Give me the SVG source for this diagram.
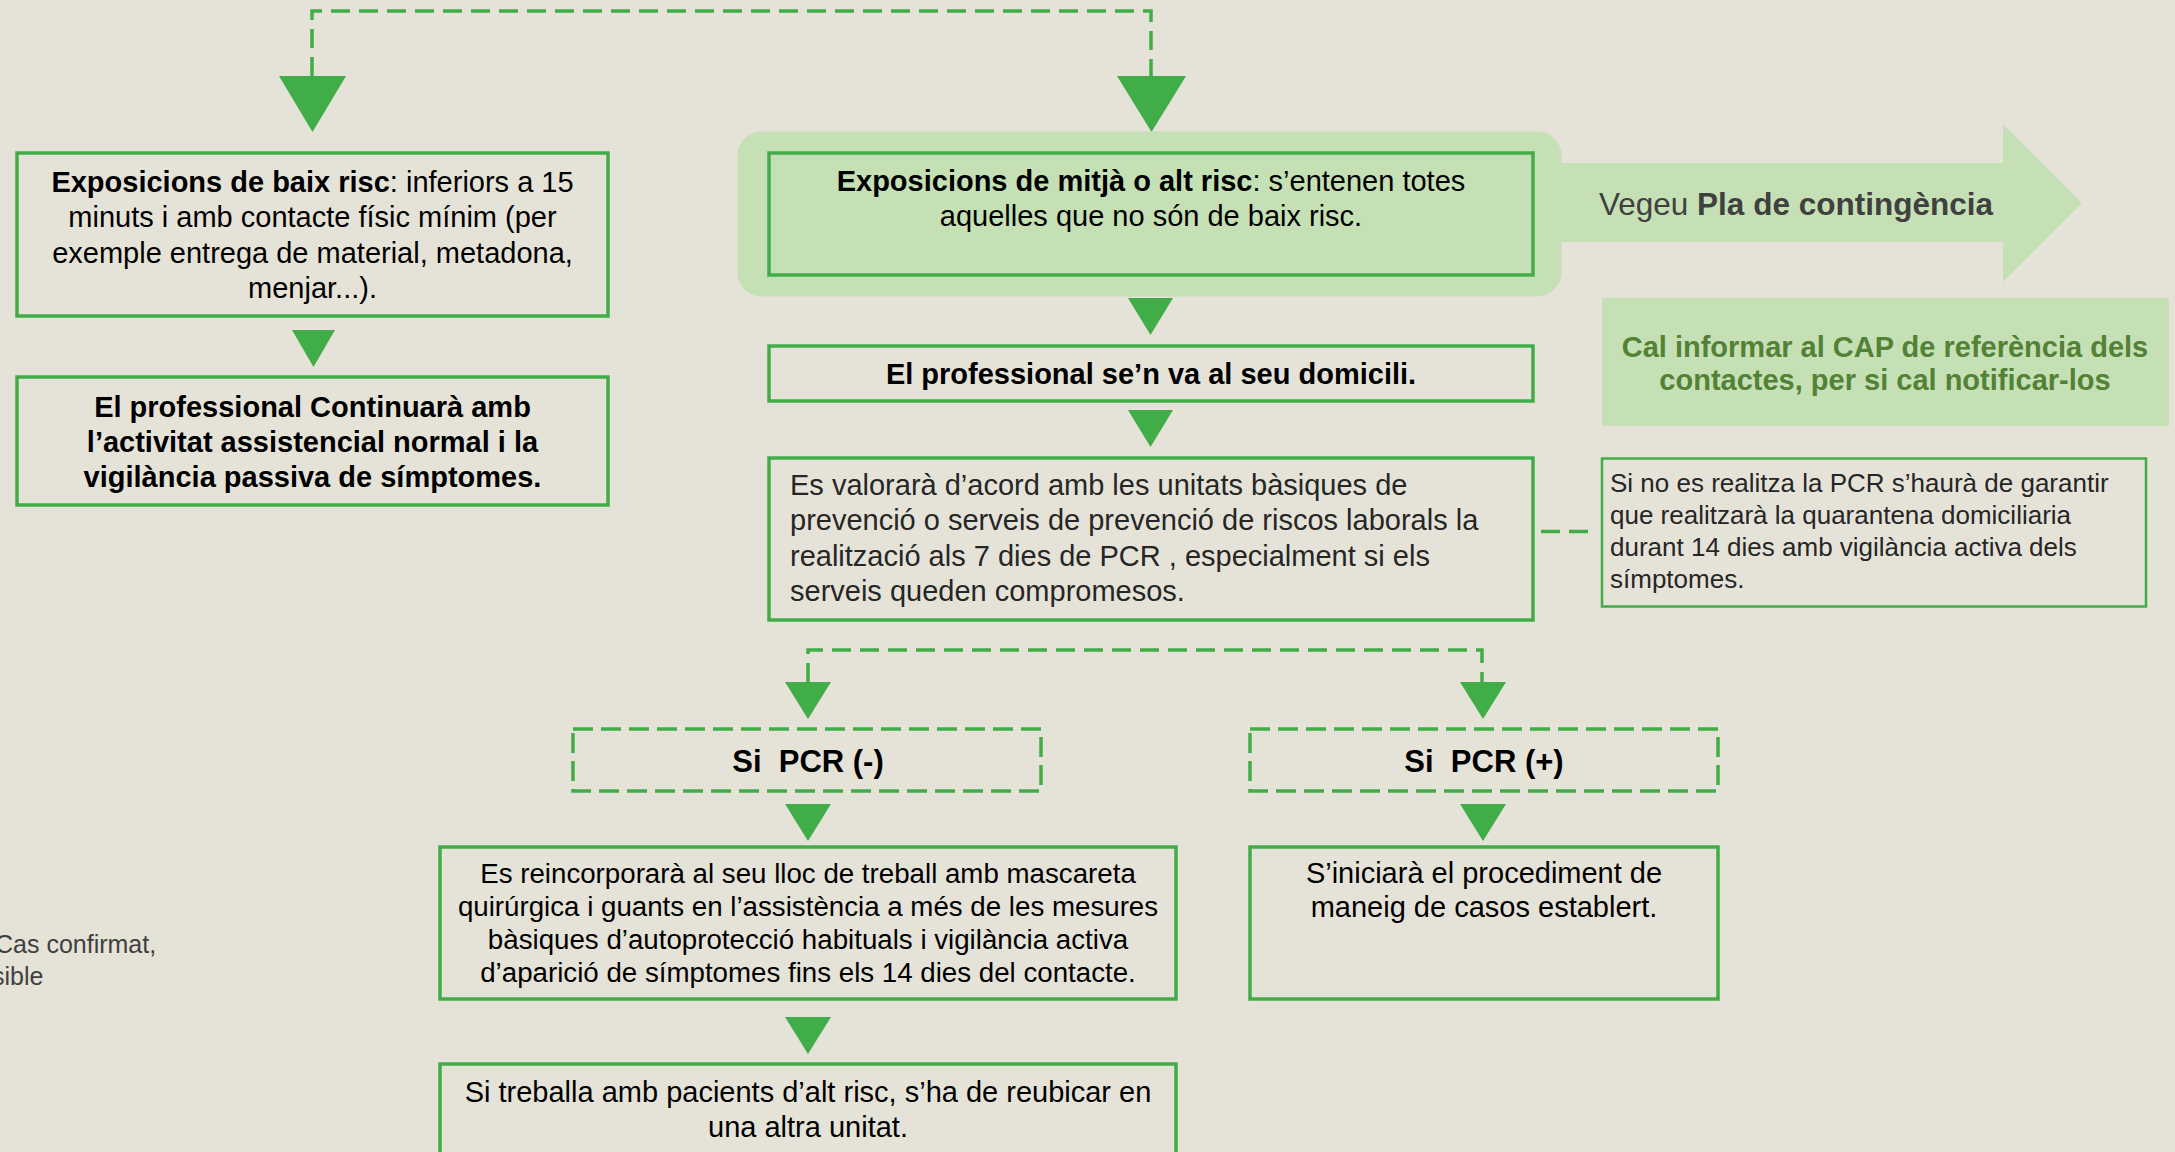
<svg xmlns="http://www.w3.org/2000/svg" width="2175" height="1152" viewBox="0 0 2175 1152">
<defs>
<style>
.box{fill:none;stroke:#41AD49;stroke-width:3.5}
.thin{fill:none;stroke:#41AD49;stroke-width:2.5}
.dbox{fill:none;stroke:#41AD49;stroke-width:3.5;stroke-dasharray:20 8}
.dash{fill:none;stroke:#41AD49;stroke-width:3.5;stroke-dasharray:19 9}
.arr{fill:#41AD49}
.lg{fill:#C5E0B4}
.t{font-family:"Liberation Sans",Arial,sans-serif;font-size:29px;fill:#000}
.c{text-anchor:middle}
.b{font-weight:bold}
.g{fill:#262626}
.gr{fill:#404040}
.dg{fill:#538135}
</style>
</defs>
<rect x="0" y="0" width="2175" height="1152" fill="#E5E3D7"/>

<g id="connectors">
<polyline class="dash" points="312,76 312,11 1151,11 1151,76"/>
<polygon class="arr" points="279,76 346,76 312.5,132"/>
<polygon class="arr" points="1117,76 1186,76 1151.5,132"/>
<polygon class="arr" points="292,330 335,330 313.5,367"/>
<polygon class="arr" points="1128,298 1173,298 1150.5,335"/>
<polygon class="arr" points="1128,410 1173,410 1150.5,447"/>
<line class="dash" x1="1541" y1="531.5" x2="1590" y2="531.5"/>
<polyline class="dash" points="808,682 808,650 1482,650 1482,682"/>
<polygon class="arr" points="785,682 831,682 808,719"/>
<polygon class="arr" points="1460,682 1506,682 1483,719"/>
<polygon class="arr" points="785,804 831,804 808,841"/>
<polygon class="arr" points="1460,804 1506,804 1483,841"/>
<polygon class="arr" points="785,1017 831,1017 808,1054"/>
</g>

<g id="n-baix">
<rect class="box" x="17" y="153" width="591" height="163"/>
<text class="t c" x="312.5" y="191.5"><tspan class="b">Exposicions de baix risc</tspan>: inferiors a 15</text>
<text class="t c" x="312.5" y="227">minuts i amb contacte físic mínim (per</text>
<text class="t c" x="312.5" y="262.5">exemple entrega de material, metadona,</text>
<text class="t c" x="312.5" y="298">menjar...).</text>
</g>

<g id="n-continuara">
<rect class="box" x="17" y="377" width="591" height="128"/>
<text class="t c b" x="312.5" y="416.5">El professional Continuarà amb</text>
<text class="t c b" x="312.5" y="451.5">l’activitat assistencial normal i la</text>
<text class="t c b" x="312.5" y="486.5">vigilància passiva de símptomes.</text>
</g>

<g id="n-pla">
<rect class="lg" x="737.5" y="131.5" width="824" height="165" rx="24"/>
<polygon class="lg" points="1540,163 2003,163 2003,124 2082,203 2003,282 2003,242 1540,242"/>
<text class="t gr" x="1599" y="214.5" style="font-size:31.5px">Vegeu <tspan class="b">Pla de contingència</tspan></text>
</g>

<g id="n-mitja">
<rect class="box lg" x="769" y="153" width="764" height="122" style="fill:#C5E0B4"/>
<text class="t c" x="1151" y="191"><tspan class="b">Exposicions de mitjà o alt risc</tspan>: s’entenen totes</text>
<text class="t c" x="1151" y="226">aquelles que no són de baix risc.</text>
</g>

<g id="n-cap">
<rect class="lg" x="1602" y="298" width="567" height="128"/>
<text class="t c b dg" x="1885" y="356.5">Cal informar al CAP de referència dels</text>
<text class="t c b dg" x="1885" y="390">contactes, per si cal notificar-los</text>
</g>

<g id="n-domicili">
<rect class="box" x="769" y="346" width="764" height="55"/>
<text class="t c b" x="1151" y="384">El professional se’n va al seu domicili.</text>
</g>

<g id="n-valorara">
<rect class="box" x="769" y="458" width="764" height="162"/>
<text class="t g" x="790" y="495">Es valorarà d’acord amb les unitats bàsiques de</text>
<text class="t g" x="790" y="530">prevenció o serveis de prevenció de riscos laborals la</text>
<text class="t g" x="790" y="565.5">realització als 7 dies de PCR , especialment si els</text>
<text class="t g" x="790" y="601">serveis queden compromesos.</text>
</g>

<g id="n-sino">
<rect class="thin" x="1602" y="458.5" width="544" height="148"/>
<text class="t g" x="1610" y="491.5" style="font-size:26px">Si no es realitza la PCR s’haurà de garantir</text>
<text class="t g" x="1610" y="523.5" style="font-size:26px">que realitzarà la quarantena domiciliaria</text>
<text class="t g" x="1610" y="555.5" style="font-size:26px">durant 14 dies amb vigilància activa dels</text>
<text class="t g" x="1610" y="587.5" style="font-size:26px">símptomes.</text>
</g>

<g id="n-pcrneg">
<rect class="dbox" x="573" y="729" width="468" height="62"/>
<text class="t c b" x="808" y="772" style="font-size:31px" xml:space="preserve">Si  PCR (-)</text>
</g>

<g id="n-pcrpos">
<rect class="dbox" x="1250" y="729" width="468" height="62"/>
<text class="t c b" x="1484" y="772" style="font-size:31px" xml:space="preserve">Si  PCR (+)</text>
</g>

<g id="n-reincorpora">
<rect class="box" x="440" y="847" width="736" height="152"/>
<text class="t c" x="808" y="883" style="font-size:27.7px">Es reincorporarà al seu lloc de treball amb mascareta</text>
<text class="t c" x="808" y="916" style="font-size:27.7px">quirúrgica i guants en l’assistència a més de les mesures</text>
<text class="t c" x="808" y="949" style="font-size:27.7px">bàsiques d’autoprotecció habituals i vigilància activa</text>
<text class="t c" x="808" y="982" style="font-size:27.7px">d’aparició de símptomes fins els 14 dies del contacte.</text>
</g>

<g id="n-inicia">
<rect class="box" x="1250" y="847" width="468" height="152"/>
<text class="t c" x="1484" y="883">S’iniciarà el procediment de</text>
<text class="t c" x="1484" y="916.5">maneig de casos establert.</text>
</g>

<g id="n-reubicar">
<rect class="box" x="440" y="1064" width="736" height="100"/>
<text class="t c" x="808" y="1101.5">Si treballa amb pacients d’alt risc, s’ha de reubicar en</text>
<text class="t c" x="808" y="1136.5">una altra unitat.</text>
</g>

<g id="n-cas">
<text class="t gr" x="-5" y="953" style="font-size:25px">Cas confirmat,</text>
<text class="t gr" x="-8" y="985" style="font-size:25px">sible</text>
</g>
</svg>
